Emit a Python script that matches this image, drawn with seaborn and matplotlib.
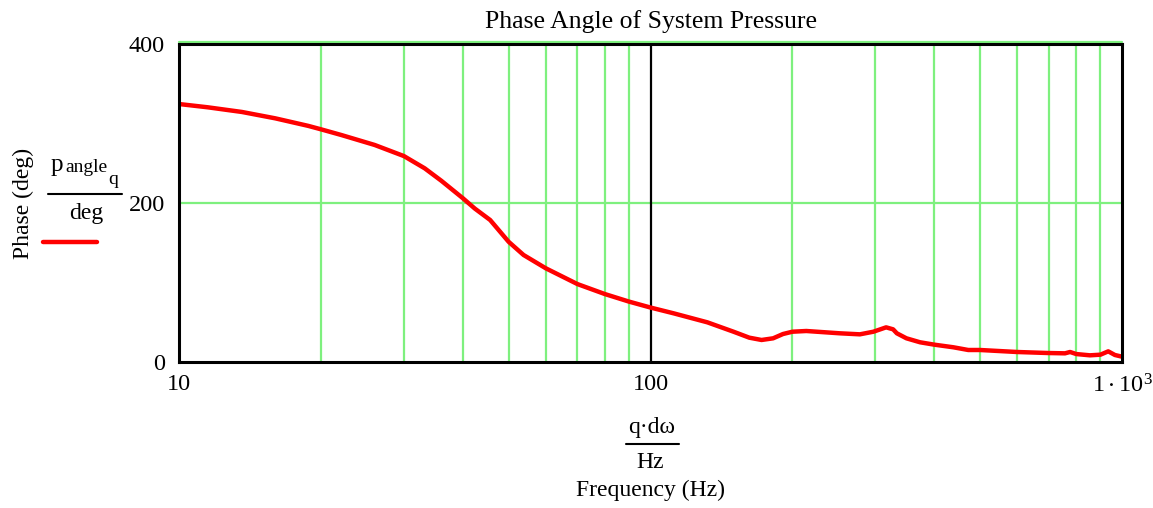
import numpy as np
import matplotlib
matplotlib.use('Agg')
import matplotlib.pyplot as plt
import matplotlib.transforms as mtransforms
import seaborn as sns
import pandas as pd

# frequency (Hz) and phase angle (deg)
freq = [10, 11.5, 13.6, 16, 18.8, 20, 22.1, 26, 30, 33.2, 36, 40, 42.4,
        45.7, 50, 53.8, 60, 70, 80, 90, 100, 112, 132, 150, 162, 172, 182,
        191, 200, 214, 252, 278, 297, 316, 327, 333, 349, 373, 400, 439,
        472, 500, 598, 697, 757, 776, 800, 855, 900, 935, 966, 1000]
phase = [324.5, 320.4, 314.5, 306.5, 297, 292.7, 285.5, 273, 259, 243.6,
         228, 206, 193, 178.6, 151.3, 134.6, 117.8, 98, 85.5, 76, 68.5,
         61.2, 49.9, 38.1, 30.6, 27.7, 29.8, 35.2, 38.1, 39, 36.1, 34.8,
         38.1, 43.6, 41.1, 36.1, 29.8, 24.8, 21.8, 18.5, 15.1, 15.1, 12.6,
         11.3, 10.9, 12.6, 10, 8.4, 9.2, 13.4, 8.8, 6.7]

y_ticks = [0, 200, 400]
x_ticks = [10, 100, 1000]
x_ticklabels = ['10', '100', r'$\mathregular{1\cdot10^{3}}$']

df = pd.DataFrame({'freq': freq, 'phase': phase})

sns.set_style('white')
plt.rcParams['font.family'] = ['Liberation Serif', 'DejaVu Serif']
plt.rcParams['text.color'] = 'black'
plt.rcParams['mathtext.fontset'] = 'custom'
plt.rcParams['mathtext.rm'] = 'Liberation Serif'
plt.rcParams['mathtext.it'] = 'Liberation Serif'

W, H = 1153, 508
fig = plt.figure(figsize=(W / 100, H / 100), dpi=100)
ax = fig.add_axes([179 / W, 1 - 362 / H, (1122 - 179) / W, (362 - 44) / H])


def px(x, y):
    return x / W, 1 - y / H


grid_green = '#7ef07e'
ax.set_xscale('log')
ax.set_xlim(10, 1000)
ax.set_ylim(0, 400)

# minor vertical grid lines
for dec in [10, 100]:
    for m in range(2, 10):
        ax.axvline(dec * m, color=grid_green, lw=1.6, zorder=1)
ax.axhline(200, color=grid_green, lw=1.6, zorder=1)
ax.axvline(100, color='black', lw=1.6, zorder=1)
# green line sitting just above top border
off = mtransforms.offset_copy(ax.transAxes, fig=fig, x=0, y=2, units='dots')
ax.plot([0, 1], [1, 1], transform=off, color=grid_green, lw=1.6, clip_on=False, zorder=5)

sns.lineplot(data=df, x='freq', y='phase', ax=ax, color='#ff0000', lw=3.2, zorder=3)

for s in ax.spines.values():
    s.set_color('black')
    s.set_linewidth(2.2)
    s.set_zorder(6)

ax.set_xticks(x_ticks)
ax.set_xticklabels(x_ticklabels)
ax.xaxis.set_minor_locator(matplotlib.ticker.NullLocator())
ax.set_yticks(y_ticks)
ax.set_yticklabels([str(v) for v in y_ticks])
ax.tick_params(axis='both', length=0, labelsize=17.5, colors='black')
ax.tick_params(axis='y', pad=10)
ax.tick_params(axis='x', pad=9)
ax.set_xlabel('')
ax.set_ylabel('')
ax.grid(False)

# title and axis labels
fig.text(*px(651, 22), 'Phase Angle of System Pressure',
         ha='center', va='center', fontsize=18.5)
fig.text(*px(23, 203), 'Phase (deg)', rotation=90,
         ha='center', va='center', fontsize=17)

# y label fraction p_angle_q / deg with legend line
fig.text(*px(51, 171), 'p', ha='left', va='baseline', fontsize=18)
fig.text(*px(65, 172), 'angle', ha='left', va='baseline', fontsize=14)
fig.text(*px(108, 184), 'q', ha='left', va='baseline', fontsize=14)
fig.add_artist(plt.Line2D([48 / W, 122 / W], [1 - 194 / H, 1 - 194 / H],
                          color='black', lw=1.5))
fig.text(*px(86, 214), 'deg', ha='center', va='center', fontsize=17)
fig.add_artist(plt.Line2D([43 / W, 97 / W], [1 - 242 / H, 1 - 242 / H],
                          color='#ff0000', lw=3.2))

# x label fraction q·dω / Hz
fig.text(*px(652, 427), 'q·dω', ha='center', va='center', fontsize=17)
fig.add_artist(plt.Line2D([626 / W, 679 / W], [1 - 444 / H, 1 - 444 / H],
                          color='black', lw=1.5))
fig.text(*px(650, 463), 'Hz', ha='center', va='center', fontsize=17)
fig.text(*px(651, 490), 'Frequency (Hz)', ha='center', va='center', fontsize=17)

fig.savefig('out.png', dpi=100)
